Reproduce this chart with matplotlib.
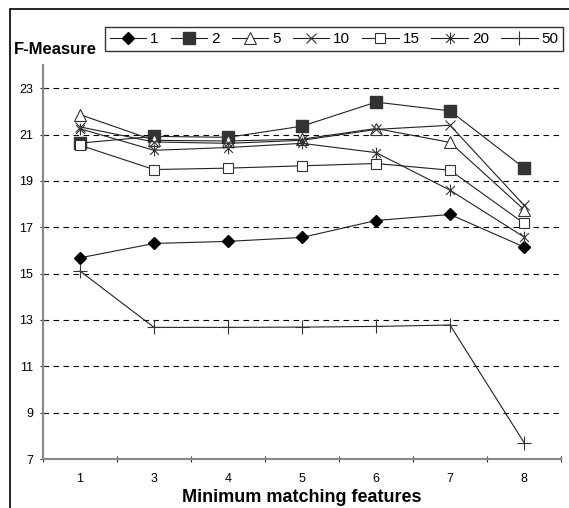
import matplotlib
matplotlib.use("Agg")
import matplotlib.pyplot as plt
from matplotlib.path import Path
from matplotlib.patches import Rectangle

plt.rcParams['font.family'] = ['Liberation Sans', 'DejaVu Sans']

categories = ["1", "3", "4", "5", "6", "7", "8"]
series_names = ["1", "2", "5", "10", "15", "20", "50"]
s1 = [15.68, 16.30, 16.39, 16.56, 17.29, 17.55, 16.15]
s2 = [20.63, 20.92, 20.88, 21.36, 22.40, 22.02, 19.56]
s5 = [21.86, 20.75, 20.72, 20.80, 21.26, 20.66, 17.76]
s10 = [21.33, 20.68, 20.62, 20.75, 21.22, 21.40, 17.95]
s15 = [20.54, 19.49, 19.55, 19.65, 19.75, 19.46, 17.17]
s20 = [21.25, 20.32, 20.44, 20.62, 20.22, 18.60, 16.58]
s50 = [15.11, 12.68, 12.68, 12.69, 12.72, 12.78, 7.71]
yticks = [7, 9, 11, 13, 15, 17, 19, 21, 23]

asterisk = Path([(0, -1), (0, 1), (-0.75, -0.75), (0.75, 0.75), (-0.75, 0.75), (0.75, -0.75)],
                [Path.MOVETO, Path.LINETO, Path.MOVETO, Path.LINETO, Path.MOVETO, Path.LINETO])

styles = [
    dict(marker='D', ms=6.5, mfc='black', mec='black'),
    dict(marker='s', ms=8, mfc='#333333', mec='#333333'),
    dict(marker='^', ms=8.5, mfc='white', mec='#333333', mew=0.8),
    dict(marker='x', ms=7.5, mec='#333333', mew=0.8),
    dict(marker='s', ms=7.5, mfc='white', mec='#333333', mew=0.8),
    dict(marker=asterisk, ms=8.5, mec='#333333', mew=0.8),
    dict(marker='+', ms=10, mec='#333333', mew=0.8),
]

W, H = 569, 508
fig = plt.figure(figsize=(W / 100, H / 100), dpi=100)
ax = fig.add_axes([43 / W, 1 - 459 / H, (561 - 43) / W, (459 - 65) / H])

x = list(range(len(categories)))
data = [s1, s2, s5, s10, s15, s20, s50]
handles = []
for name, vals, st in zip(series_names, data, styles):
    h, = ax.plot(x, vals, color='#222222', lw=0.8, label=name, **st)
    handles.append(h)

ax.set_xlim(-0.5, len(categories) - 0.5)
ax.set_ylim(7, 24)
ax.set_yticks(yticks)
ax.set_yticklabels([str(v) for v in yticks], fontsize=9)
ax.set_xticks(x)
ax.set_xticklabels(categories, fontsize=9)
ax.set_xticks([i + 0.5 for i in range(-1, len(categories))], minor=True)
ax.tick_params(axis='x', which='major', length=0, pad=10)
ax.tick_params(axis='x', which='minor', length=4, direction='inout', color='#333333', width=0.8)
ax.tick_params(axis='y', length=4, direction='inout', color='#333333', width=0.8, pad=5)
for v in yticks[1:]:
    ax.axhline(v, color='black', lw=0.8, ls=(0, (5, 4)), zorder=0)
for sp in ['top', 'right']:
    ax.spines[sp].set_visible(False)
for sp in ['left', 'bottom']:
    ax.spines[sp].set_color('#888888')
    ax.spines[sp].set_linewidth(1.5)
ax.set_xlabel('Minimum matching features', fontsize=13, fontweight='bold', labelpad=3)

fig.text(14 / W, 1 - 49 / H, 'F-Measure', fontsize=12, fontweight='bold', ha='left', va='center')

leg = fig.legend(handles=handles, loc='center', ncol=7, fontsize=11,
                 bbox_to_anchor=(105 / W, 1 - 58 / H, (563 - 105) / W, 38 / H),
                 mode='expand', frameon=True, fancybox=False, handlelength=2.4,
                 handletextpad=0.25, columnspacing=0.6, borderpad=0.3, borderaxespad=0)
leg.get_frame().set_edgecolor('black')
leg.get_frame().set_linewidth(1.0)

fig.add_artist(Rectangle((10 / W, -0.1), 1.2, 1.1 - 9 / H, transform=fig.transFigure,
                         fill=False, edgecolor='black', lw=1.2, clip_on=False))

fig.savefig('out.png', dpi=100)
